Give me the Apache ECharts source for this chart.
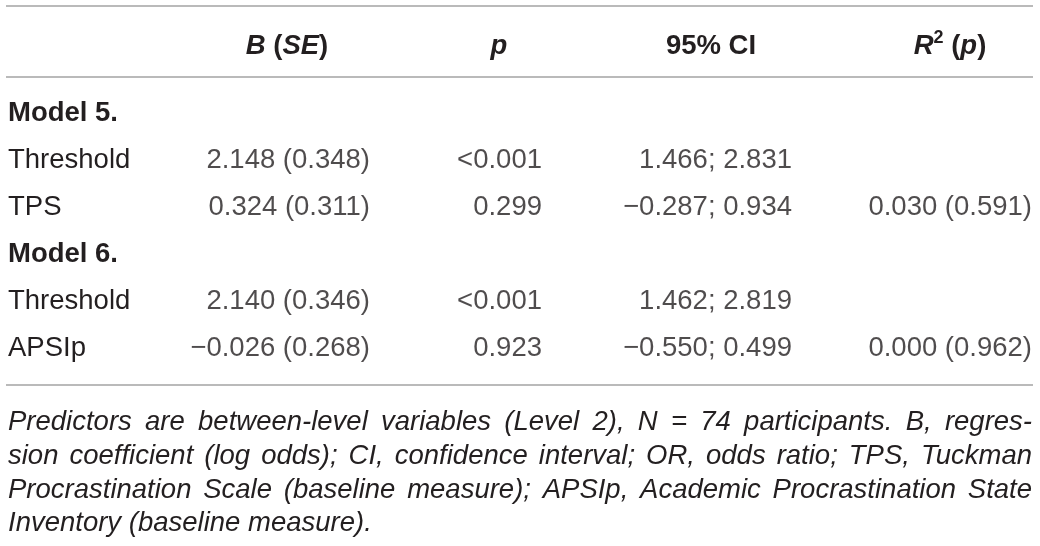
<!DOCTYPE html>
<html>
<head>
<meta charset="utf-8">
<script src="https://cdn.jsdelivr.net/npm/echarts@6/dist/echarts.min.js"></script>
<style>html,body{margin:0;padding:0;background:#fff;}#c{width:1040px;height:546px;}</style>
</head>
<body>
<div id="c"></div>
<script>
// ---- data ----
const rowLabels = ['Model 5.', 'Threshold', 'TPS', 'Model 6.', 'Threshold', 'APSIp'];
const rowKinds  = ['model', 'item', 'item', 'model', 'item', 'item'];
const colKeys   = ['B (SE)', 'p', '95% CI', 'R2 (p)'];
const bSE  = ['', '2.148 (0.348)', '0.324 (0.311)', '', '2.140 (0.346)', '\u22120.026 (0.268)'];
const pVal = ['', '<0.001', '0.299', '', '<0.001', '0.923'];
const ci   = ['', '1.466; 2.831', '\u22120.287; 0.934', '', '1.462; 2.819', '\u22120.550; 0.499'];
const r2   = ['', '', '0.030 (0.591)', '', '', '0.000 (0.962)'];
const footLines = [
  'Predictors are between-level variables (Level 2), N = 74 participants. B, regres-',
  'sion coefficient (log odds); CI, confidence interval; OR, odds ratio; TPS, Tuckman',
  'Procrastination Scale (baseline measure); APSIp, Academic Procrastination State',
  'Inventory (baseline measure).'
];

// ---- style / layout ----
const FONT = '"Liberation Sans", Arial, sans-serif';
const FS = 27.5;
const TXT = '#231f20';
const RULE = '#a3a3a3';
const colValues = [bSE, pVal, ci, r2];
const colOffsets = [66, 30, 72, 104];      // label shift from category centre (right aligned)
const headerX = [287, 499, 711, 950];
const headerY = 46;
const ruleY = [6, 77, 385];
const footY = [422, 456, 490, 523];
const footFS = 27.5;

const chart = echarts.init(document.getElementById('c'), null, {renderer: 'canvas'});

const series = colValues.map((vals, c) => ({
  type: 'scatter',
  symbolSize: 0,
  silent: true,
  data: vals.map((t, i) => [c, i, t]).filter(d => d[2] !== ''),
  label: {
    show: true,
    position: 'inside',
    align: 'right',
    verticalAlign: 'middle',
    offset: [colOffsets[c], 0],
    formatter: p => p.data[2],
    color: TXT,
    fontFamily: FONT,
    fontSize: FS
  }
}));

// header rich text
const hb = {fontFamily: FONT, fontSize: FS, fontWeight: 'bold', fill: TXT, color: TXT};
const headerRich = {
  b:  Object.assign({}, hb),
  bi: Object.assign({}, hb, {fontStyle: 'italic'}),
  sup:Object.assign({}, hb, {fontSize: 18, padding: [0, 0, 16, 0]})
};
const headerText = [
  '{bi|B} {b|(}{bi|SE}{b|)}',
  '{bi|p}',
  '{b|95% CI}',
  '{bi|R}{sup|2}{b| (}{bi|p}{b|)}'
];
const graphics = [];
headerText.forEach((t, i) => {
  graphics.push({
    type: 'text', x: headerX[i], y: headerY, silent: true,
    style: {text: t, rich: headerRich, align: 'center', verticalAlign: 'middle',
            fontFamily: FONT, fontSize: FS, fill: TXT}
  });
});
ruleY.forEach(y => {
  graphics.push({type: 'line', silent: true,
    shape: {x1: 6, y1: y, x2: 1033, y2: y},
    style: {stroke: RULE, lineWidth: 1.6}});
});

// justified footnote
const ctx = document.createElement('canvas').getContext('2d');
const footFont = 'italic ' + footFS + 'px ' + FONT;
ctx.font = footFont;
const L = 8, R = 1032;
footLines.forEach((line, li) => {
  const words = line.split(' ');
  const widths = words.map(w => ctx.measureText(w).width);
  const sum = widths.reduce((a, b) => a + b, 0);
  const last = li === footLines.length - 1;
  const gap = last ? ctx.measureText(' ').width : (R - L - sum) / (words.length - 1);
  let x = L;
  words.forEach((w, wi) => {
    graphics.push({type: 'text', x: x, y: footY[li], silent: true,
      style: {text: w, font: footFont, fill: TXT, align: 'left', verticalAlign: 'middle'}});
    x += widths[wi] + gap;
  });
});

chart.setOption({
  animation: false,
  backgroundColor: '#fff',
  grid: {left: 200, right: 8, top: 89.5, height: 283, containLabel: false},
  xAxis: {type: 'category', data: colKeys, show: false},
  yAxis: {
    type: 'category', inverse: true, data: rowLabels,
    axisLine: {show: false}, axisTick: {show: false}, splitLine: {show: false},
    axisLabel: {
      align: 'left', margin: 192,
      formatter: (v, i) => (rowKinds[i] === 'model' ? '{m|' + v + '}' : '{n|' + v + '}'),
      rich: {
        m: {fontFamily: FONT, fontSize: FS, fontWeight: 'bold', color: TXT},
        n: {fontFamily: FONT, fontSize: FS, color: TXT}
      }
    }
  },
  series: series,
  graphic: graphics
});
</script>
</body>
</html>
